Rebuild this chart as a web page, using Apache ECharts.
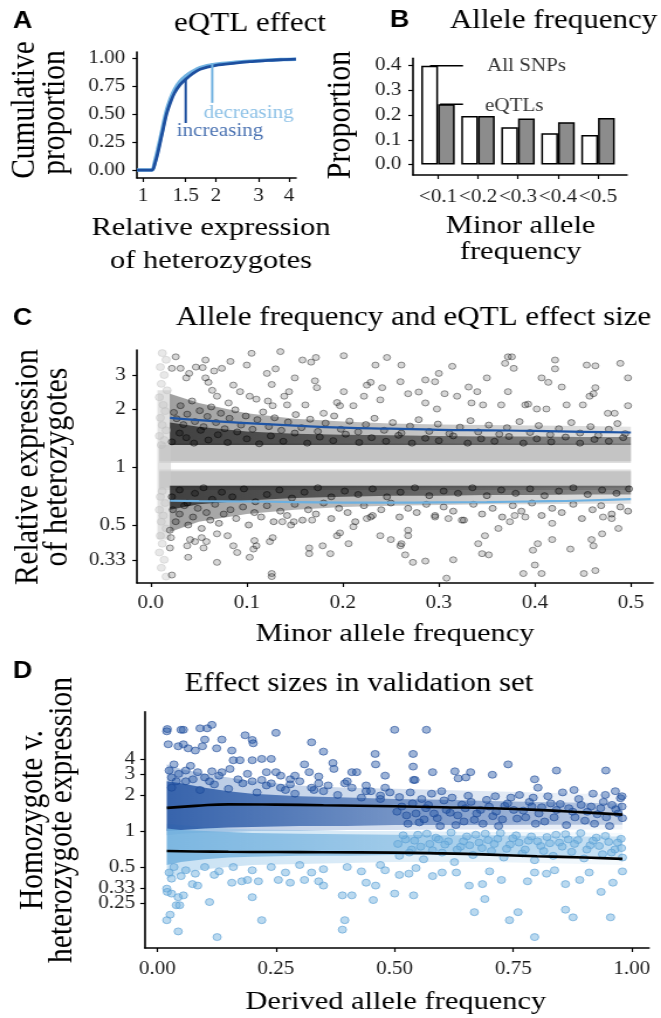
<!DOCTYPE html>
<html><head><meta charset="utf-8">
<script src="https://cdn.jsdelivr.net/npm/echarts@6/dist/echarts.min.js"></script>
<style>
html,body{margin:0;padding:0;background:#fff;overflow:hidden;width:661px;height:1018px;}
#chart{width:565px;height:1018px;transform:scaleX(1.17);transform-origin:0 0;}
</style></head><body><div id="chart"></div>
<script>
const L = Math.log;
const FONT = 'Liberation Serif';

// ---------- Panel A: cumulative distribution of eQTL effect ----------
const cdfX = [0.944, 1.05, 1.09, 1.12, 1.15, 1.2, 1.25, 1.3, 1.35, 1.42, 1.5, 1.6, 1.72, 2.0, 2.4, 2.76, 3.2, 3.7, 4.28];
const cdfIncreasing = [0, 0, 0, 0.06, 0.15, 0.33, 0.5, 0.61, 0.69, 0.76, 0.81, 0.86, 0.9, 0.935, 0.955, 0.968, 0.977, 0.985, 0.99];
const cdfDecreasing = [0, 0, 0, 0.08, 0.18, 0.36, 0.53, 0.64, 0.72, 0.79, 0.84, 0.88, 0.915, 0.945, 0.962, 0.972, 0.98, 0.986, 0.99];
const aTicksX = [1, 1.5, 2, 3, 4];
const aTickLabelsX = ['1', '1.5', '2', '3', '4'];
const aTicksY = [0, 0.25, 0.5, 0.75, 1];
const aPointerInc = [[1.5, 0.81], [1.5, 0.42]];
const aPointerDec = [[1.93, 0.955], [1.93, 0.6]];
const aLabels = [[1.375, 0.345, 'increasing'], [1.775, 0.51, 'decreasing']];

// ---------- Panel B: allele frequency bars ----------
const mafBins = ['<0.1', '<0.2', '<0.3', '<0.4', '<0.5'];
const allSNPs = [0.40, 0.197, 0.151, 0.127, 0.12];
const eQTLs = [0.244, 0.197, 0.187, 0.171, 0.189];
const bTicksY = [0, 0.1, 0.2, 0.3, 0.4];
const bPointerAll = [[0.8, 0.4], [1.625, 0.4]];
const bPointerEqtl = [[1.05, 0.244], [1.625, 0.244]];
const bLabels = [[2.225, 0.396, 'All SNPs'], [2.175, 0.237, 'eQTLs']];

// ---------- Panel C: allele frequency vs effect size ----------
const cTicksX = [0, 0.1, 0.2, 0.3, 0.4, 0.5];
const cTicksY = [0.33, 0.5, 1, 2, 3];
const cTickLabelsY = ['0.33', '0.5', '1', '2', '3'];
const cGrayX = [0.009, 0.5];
const cGrayUpperLo = [1.07, 1.07], cGrayUpperHi = [1.30, 1.30];
const cGrayLowerLo = [0.78, 0.78], cGrayLowerHi = [0.95, 0.95];
const cGrayHaloUpperLo = [1.05, 1.05], cGrayHaloUpperHi = [1.33, 1.33];
const cGrayHaloLowerLo = [0.76, 0.76], cGrayHaloLowerHi = [0.97, 0.97];
const cStripX = [0.007, 0.021];
const cStripLo = [0.42, 0.42], cStripHi = [2.5, 2.5];
const cBlackX = [0.02, 0.05, 0.1, 0.15, 0.2, 0.25, 0.3, 0.35, 0.4, 0.45, 0.5];
const cUpperBase = [1.30, 1.30, 1.30, 1.30, 1.30, 1.30, 1.30, 1.30, 1.30, 1.30, 1.30];
const cUpperCoreHi = [1.7, 1.62, 1.53, 1.49, 1.47, 1.46, 1.45, 1.44, 1.44, 1.43, 1.43];
const cUpperHaloHi = [2.4, 2.15, 1.9, 1.78, 1.72, 1.68, 1.66, 1.65, 1.64, 1.63, 1.62];
const cLowerBase = [0.80, 0.80, 0.80, 0.80, 0.80, 0.80, 0.80, 0.80, 0.80, 0.80, 0.80];
const cLowerCoreLo = [0.6, 0.64, 0.67, 0.69, 0.7, 0.71, 0.71, 0.715, 0.715, 0.72, 0.72];
const cLowerHaloLo = [0.46, 0.52, 0.57, 0.6, 0.62, 0.63, 0.635, 0.64, 0.64, 0.645, 0.645];
const cSmoothX = [0.02, 0.05, 0.1, 0.15, 0.2, 0.25, 0.3, 0.35, 0.4, 0.45, 0.5];
const cSmoothUp = [1.80, 1.75, 1.69, 1.64, 1.60, 1.58, 1.56, 1.55, 1.54, 1.52, 1.51];
const cSmoothDown = [0.668, 0.665, 0.662, 0.658, 0.654, 0.653, 0.655, 0.658, 0.663, 0.670, 0.682];
const cUpperSparse = [[0.026,3.73],[0.022,3.25],[0.031,3.25],[0.057,3.59],[0.105,3.89],[0.135,3.97],[0.158,3.59],[0.167,3.5],[0.172,3.7],[0.201,3.78],[0.246,3.7],[0.234,3.38],[0.1,3.38],[0.13,3.23],[0.083,3.53],[0.074,3.25],[0.066,3.15],[0.047,3.3],[0.054,3.28],[0.04,3.06],[0.037,2.9],[0.057,2.9],[0.06,2.75],[0.086,2.66],[0.093,2.46],[0.121,3.06],[0.126,2.68],[0.15,2.9],[0.171,2.8],[0.144,2.46],[0.173,2.58],[0.201,2.46],[0.225,2.66],[0.229,2.75],[0.241,2.58],[0.222,2.33],[0.239,2.23],[0.064,2.5],[0.069,2.33],[0.081,2.15],[0.103,2.33],[0.11,2.25],[0.122,2.2],[0.127,2.08],[0.139,2.33],[0.142,2.1],[0.161,2.1],[0.194,2.16],[0.197,2.08],[0.211,2.08],[0.18,1.9],[0.261,3.38],[0.286,2.83],[0.296,2.77],[0.3,3.06],[0.314,3.33],[0.331,2.6],[0.34,2.46],[0.35,2.9],[0.369,3.45],[0.372,3.73],[0.376,3.73],[0.378,3.25],[0.372,2.46],[0.407,2.9],[0.414,2.75],[0.421,3.59],[0.421,3.23],[0.428,2.6],[0.454,3.38],[0.463,3.35],[0.463,2.58],[0.461,2.4],[0.457,2.33],[0.489,3.45],[0.497,2.9],[0.497,2.08],[0.476,1.9],[0.483,1.9],[0.26,2.77],[0.268,2.4],[0.279,2.45],[0.306,2.4],[0.319,2.33],[0.334,2.15],[0.346,2.1],[0.365,2.1],[0.39,2.1],[0.393,2.12],[0.402,2.0],[0.412,2.0],[0.433,2.1],[0.45,2.1],[0.286,2.15],[0.298,2.0]];
const cUpperBand = [[0.024,1.92],[0.027,1.78],[0.031,2.08],[0.034,1.66],[0.038,1.88],[0.043,2.2],[0.046,1.72],[0.051,1.96],[0.055,1.62],[0.059,1.83],[0.063,2.05],[0.068,1.7],[0.073,1.9],[0.077,1.58],[0.082,1.79],[0.088,1.98],[0.094,1.65],[0.099,1.84],[0.106,1.57],[0.111,1.76],[0.117,1.93],[0.123,1.62],[0.129,1.8],[0.136,1.55],[0.143,1.71],[0.151,1.87],[0.157,1.6],[0.166,1.77],[0.174,1.53],[0.182,1.69],[0.191,1.84],[0.198,1.57],[0.207,1.73],[0.216,1.52],[0.224,1.66],[0.233,1.79],[0.243,1.55],[0.252,1.7],[0.261,1.5],[0.27,1.63],[0.279,1.76],[0.29,1.53],[0.299,1.67],[0.311,1.49],[0.322,1.61],[0.333,1.74],[0.341,1.52],[0.352,1.65],[0.363,1.48],[0.371,1.6],[0.384,1.72],[0.395,1.51],[0.404,1.64],[0.416,1.47],[0.425,1.58],[0.438,1.7],[0.447,1.5],[0.458,1.62],[0.466,1.46],[0.477,1.57],[0.486,1.68],[0.494,1.49]];
const cUpperCore = [[0.022,1.35],[0.03,1.5],[0.037,1.42],[0.045,1.33],[0.052,1.55],[0.06,1.38],[0.07,1.47],[0.08,1.34],[0.09,1.52],[0.1,1.4],[0.113,1.32],[0.125,1.45],[0.138,1.36],[0.15,1.5],[0.163,1.33],[0.176,1.43],[0.19,1.37],[0.203,1.48],[0.217,1.34],[0.23,1.42],[0.245,1.36],[0.258,1.46],[0.272,1.33],[0.286,1.41],[0.3,1.37],[0.315,1.45],[0.33,1.33],[0.344,1.4],[0.358,1.36],[0.373,1.44],[0.388,1.33],[0.402,1.4],[0.417,1.35],[0.432,1.43],[0.447,1.33],[0.462,1.39],[0.477,1.36],[0.492,1.42]];
const cLowerSparse = [[0.02,0.47],[0.021,0.43],[0.02,0.38],[0.022,0.275],[0.039,0.34],[0.038,0.39],[0.041,0.42],[0.046,0.41],[0.058,0.41],[0.053,0.43],[0.069,0.32],[0.086,0.39],[0.09,0.36],[0.103,0.34],[0.107,0.375],[0.11,0.39],[0.108,0.415],[0.124,0.41],[0.127,0.43],[0.126,0.28],[0.126,0.27],[0.137,0.52],[0.165,0.38],[0.165,0.355],[0.179,0.39],[0.187,0.355],[0.206,0.4],[0.211,0.49],[0.239,0.44],[0.194,0.44],[0.197,0.455],[0.08,0.44],[0.146,0.5],[0.149,0.52],[0.168,0.53],[0.225,0.54],[0.229,0.55],[0.25,0.42],[0.069,0.45],[0.055,0.38],[0.261,0.4],[0.265,0.35],[0.26,0.39],[0.273,0.32],[0.286,0.325],[0.308,0.265],[0.315,0.33],[0.341,0.4],[0.348,0.44],[0.345,0.355],[0.352,0.35],[0.362,0.48],[0.374,0.52],[0.388,0.28],[0.4,0.31],[0.407,0.28],[0.398,0.37],[0.403,0.4],[0.418,0.42],[0.437,0.375],[0.451,0.28],[0.463,0.29],[0.459,0.42],[0.461,0.39],[0.47,0.45],[0.487,0.48],[0.471,0.55],[0.48,0.54],[0.296,0.55],[0.31,0.54],[0.324,0.53],[0.379,0.56],[0.39,0.55],[0.268,0.47],[0.268,0.44],[0.418,0.51]];
const cLowerBand = [[0.023,0.6],[0.026,0.52],[0.03,0.57],[0.035,0.63],[0.039,0.5],[0.044,0.55],[0.049,0.61],[0.053,0.48],[0.058,0.58],[0.062,0.53],[0.067,0.64],[0.071,0.51],[0.076,0.57],[0.083,0.6],[0.089,0.54],[0.096,0.62],[0.102,0.5],[0.108,0.58],[0.115,0.55],[0.121,0.63],[0.128,0.52],[0.135,0.59],[0.142,0.56],[0.15,0.64],[0.158,0.53],[0.164,0.6],[0.172,0.57],[0.18,0.65],[0.188,0.54],[0.196,0.61],[0.205,0.58],[0.213,0.52],[0.222,0.63],[0.231,0.56],[0.24,0.6],[0.25,0.65],[0.259,0.55],[0.268,0.61],[0.277,0.58],[0.287,0.64],[0.296,0.56],[0.305,0.62],[0.315,0.59],[0.326,0.53],[0.336,0.64],[0.345,0.57],[0.356,0.61],[0.366,0.55],[0.377,0.63],[0.386,0.59],[0.397,0.65],[0.407,0.56],[0.418,0.61],[0.428,0.58],[0.44,0.64],[0.449,0.54],[0.46,0.6],[0.469,0.63],[0.48,0.57],[0.489,0.62],[0.497,0.59]];
const cLowerCore = [[0.022,0.7],[0.03,0.76],[0.038,0.65],[0.046,0.73],[0.055,0.78],[0.064,0.68],[0.074,0.74],[0.085,0.7],[0.097,0.77],[0.109,0.66],[0.121,0.72],[0.134,0.76],[0.147,0.69],[0.16,0.74],[0.174,0.78],[0.188,0.7],[0.202,0.75],[0.216,0.72],[0.231,0.77],[0.246,0.7],[0.26,0.74],[0.275,0.78],[0.29,0.71],[0.305,0.75],[0.32,0.73],[0.335,0.78],[0.35,0.71],[0.365,0.76],[0.38,0.73],[0.395,0.77],[0.41,0.71],[0.425,0.75],[0.44,0.78],[0.455,0.72],[0.47,0.76],[0.485,0.73],[0.498,0.77]];
const cGrayStrip = [[0.012,3.9],[0.016,3.6],[0.01,3.3],[0.014,3.0],[0.011,2.7],[0.017,2.5],[0.009,2.3],[0.013,2.1],[0.015,1.95],[0.01,1.8],[0.012,1.65],[0.016,1.55],[0.009,1.45],[0.014,1.38],[0.011,1.3],[0.012,0.75],[0.01,0.7],[0.015,0.65],[0.009,0.6],[0.013,0.56],[0.011,0.52],[0.016,0.48],[0.01,0.44],[0.012,0.4],[0.009,0.36],[0.014,0.33],[0.011,0.3],[0.016,0.27]];

// ---------- Panel D: validation set ----------
const dTicksX = [0, 0.25, 0.5, 0.75, 1];
const dTicksY = [0.33, 0.5, 1, 2, 3];
const dTickLabelsY = ['0.33', '0.5', '1', '2', '3'];
const dTicksYOuter = [0.25, 4];
const dTickLabelsYOuter = ['0.25', '4'];
const dBandX = [0.02, 0.05, 0.1, 0.15, 0.2, 0.3, 0.4, 0.5, 0.6, 0.7, 0.8, 0.9, 0.98];
const dDarkCoreLo = [1.0, 1.02, 1.05, 1.07, 1.08, 1.1, 1.1, 1.12, 1.12, 1.12, 1.13, 1.13, 1.13];
const dDarkCoreHi = [2.6, 2.5, 2.3, 2.15, 2.05, 1.95, 1.9, 1.85, 1.82, 1.78, 1.75, 1.72, 1.7];
const dDarkHaloLo = [0.92, 0.95, 0.97, 0.98, 1.0, 1.0, 1.02, 1.02, 1.03, 1.03, 1.03, 1.03, 1.03];
const dDarkHaloHi = [3.6, 3.3, 3.0, 2.8, 2.6, 2.4, 2.3, 2.25, 2.2, 2.15, 2.1, 2.05, 2.0];
const dLightCoreLo = [0.52, 0.55, 0.58, 0.6, 0.61, 0.62, 0.62, 0.63, 0.63, 0.63, 0.62, 0.61, 0.6];
const dLightCoreHi = [1.05, 1.02, 1.0, 0.98, 0.96, 0.95, 0.94, 0.93, 0.92, 0.92, 0.91, 0.9, 0.9];
const dLightHaloLo = [0.4, 0.44, 0.48, 0.5, 0.52, 0.53, 0.54, 0.55, 0.55, 0.55, 0.54, 0.53, 0.52];
const dLightHaloHi = [1.15, 1.12, 1.08, 1.05, 1.03, 1.02, 1.0, 1.0, 0.99, 0.98, 0.98, 0.97, 0.96];
const dSmoothX = [0.02, 0.08, 0.15, 0.25, 0.35, 0.5, 0.6, 0.7, 0.8, 0.9, 0.98];
const dSmoothUp = [1.56, 1.62, 1.67, 1.66, 1.64, 1.61, 1.58, 1.55, 1.50, 1.43, 1.37];
const dSmoothDown = [0.68, 0.675, 0.67, 0.667, 0.664, 0.66, 0.65, 0.635, 0.615, 0.6, 0.585];
const dDarkSparse = [[0.02,6.8],[0.021,7.1],[0.05,7.0],[0.055,7.0],[0.09,7.2],[0.105,7.2],[0.115,7.7],[0.185,6.3],[0.25,6.6],[0.2,5.76],[0.202,5.4],[0.325,5.5],[0.35,4.6],[0.459,4.4],[0.5,7.0],[0.567,7.0],[0.539,4.4],[0.539,3.45],[0.54,2.67],[0.543,2.67],[0.58,3.1],[0.627,3.15],[0.634,2.75],[0.65,2.8],[0.66,3.1],[0.706,2.95],[0.739,3.6],[0.795,2.7],[0.802,2.3],[0.841,3.2],[0.878,2.2],[0.945,3.2],[0.965,2.15],[0.944,2.0],[0.979,1.95],[0.023,5.3],[0.044,5.1],[0.055,5.3],[0.065,4.9],[0.08,4.7],[0.095,5.1],[0.1,5.8],[0.125,4.9],[0.136,5.8],[0.157,4.7],[0.16,3.9],[0.174,3.9],[0.2,3.9],[0.22,4.0],[0.24,4.0],[0.23,3.1],[0.25,3.1],[0.26,2.9],[0.28,2.7],[0.29,2.9],[0.31,3.6],[0.32,3.1],[0.34,2.85],[0.37,3.7],[0.372,3.3],[0.41,3.1],[0.42,3.1],[0.46,3.6],[0.48,2.9],[0.07,3.5],[0.085,3.1],[0.1,2.8],[0.115,3.15],[0.136,3.1],[0.153,3.3],[0.2,2.6],[0.22,2.67],[0.24,2.5],[0.27,2.2],[0.325,2.3],[0.35,2.15],[0.36,2.4],[0.395,2.5],[0.41,2.3],[0.43,1.9],[0.45,2.15],[0.47,1.85],[0.49,2.1],[0.025,3.2],[0.03,2.8],[0.035,3.6],[0.04,2.6],[0.045,3.0],[0.06,3.2],[0.075,2.7],[0.11,2.6],[0.13,2.9],[0.17,2.7],[0.19,3.0],[0.23,2.4],[0.28,2.45],[0.3,2.6],[0.34,2.5],[0.4,2.6],[0.44,2.4],[0.48,2.3]];
const dDarkBand = [[0.51,1.92],[0.525,1.35],[0.538,1.7],[0.552,1.18],[0.566,1.55],[0.578,2.05],[0.59,1.28],[0.604,1.8],[0.617,1.42],[0.629,1.12],[0.642,1.66],[0.655,1.97],[0.668,1.24],[0.681,1.5],[0.694,1.82],[0.707,1.33],[0.719,1.1],[0.732,1.62],[0.745,1.9],[0.758,1.27],[0.771,1.48],[0.784,1.75],[0.797,1.15],[0.81,1.58],[0.823,1.95],[0.836,1.3],[0.849,1.68],[0.862,1.12],[0.875,1.45],[0.888,1.85],[0.901,1.22],[0.914,1.6],[0.927,1.38],[0.94,1.75],[0.953,1.1],[0.966,1.52],[0.976,1.88],[0.98,1.28],[0.03,2.3],[0.06,2.6],[0.09,2.2],[0.12,2.45],[0.15,2.25],[0.18,2.5],[0.21,2.1],[0.26,2.3],[0.29,2.05],[0.33,2.2],[0.38,2.0],[0.44,2.15],[0.47,1.98],[0.505,1.45],[0.515,1.6],[0.528,1.15],[0.533,2.1],[0.545,1.4],[0.557,1.85],[0.562,1.25],[0.571,1.65],[0.583,1.4],[0.596,1.1],[0.599,2.15],[0.609,1.5],[0.621,1.9],[0.633,1.35],[0.646,1.2],[0.649,1.55],[0.661,1.75],[0.673,1.4],[0.686,1.15],[0.699,1.6],[0.712,1.95],[0.714,1.45],[0.727,1.25],[0.738,1.7],[0.751,1.5],[0.763,2.0],[0.776,1.3],[0.789,1.6],[0.792,1.9],[0.804,1.4],[0.816,1.2],[0.829,1.7],[0.841,1.5],[0.854,2.1],[0.867,1.55],[0.88,1.3],[0.893,1.65],[0.906,1.45],[0.918,2.05],[0.921,1.15],[0.934,1.55],[0.946,1.3],[0.958,1.65],[0.971,1.4],[0.979,1.6]];
const dLightSparse = [[0.02,0.33],[0.021,0.31],[0.03,0.3],[0.044,0.28],[0.055,0.29],[0.04,0.24],[0.047,0.24],[0.02,0.18],[0.027,0.2],[0.044,0.145],[0.126,0.13],[0.074,0.36],[0.085,0.35],[0.11,0.255],[0.12,0.43],[0.157,0.37],[0.178,0.38],[0.19,0.39],[0.213,0.38],[0.2,0.28],[0.22,0.18],[0.255,0.39],[0.28,0.37],[0.31,0.39],[0.325,0.45],[0.34,0.38],[0.35,0.35],[0.39,0.29],[0.395,0.18],[0.39,0.15],[0.41,0.29],[0.44,0.37],[0.455,0.265],[0.46,0.35],[0.48,0.47],[0.5,0.3],[0.51,0.43],[0.53,0.44],[0.54,0.29],[0.545,0.49],[0.58,0.42],[0.6,0.45],[0.63,0.45],[0.657,0.35],[0.668,0.21],[0.685,0.36],[0.69,0.27],[0.7,0.46],[0.725,0.39],[0.742,0.18],[0.76,0.21],[0.78,0.38],[0.795,0.13],[0.795,0.45],[0.82,0.44],[0.837,0.47],[0.86,0.36],[0.86,0.22],[0.876,0.19],[0.89,0.39],[0.91,0.45],[0.935,0.31],[0.955,0.19],[0.96,0.37],[0.98,0.46],[0.025,0.45],[0.03,0.4],[0.035,0.5],[0.05,0.42],[0.06,0.47],[0.08,0.44],[0.1,0.5],[0.13,0.46],[0.16,0.5],[0.2,0.47],[0.24,0.5],[0.27,0.45],[0.3,0.52],[0.35,0.48],[0.4,0.5],[0.43,0.46],[0.47,0.52]];
const dLightBand = [[0.51,0.62],[0.523,0.85],[0.536,0.7],[0.549,0.93],[0.561,0.58],[0.574,0.78],[0.587,0.88],[0.6,0.66],[0.613,0.82],[0.626,0.55],[0.639,0.74],[0.652,0.9],[0.665,0.63],[0.678,0.8],[0.691,0.95],[0.704,0.68],[0.717,0.86],[0.73,0.6],[0.743,0.77],[0.756,0.92],[0.769,0.65],[0.782,0.83],[0.795,0.57],[0.808,0.75],[0.821,0.89],[0.834,0.62],[0.847,0.8],[0.86,0.94],[0.873,0.67],[0.886,0.84],[0.899,0.59],[0.912,0.76],[0.925,0.88],[0.938,0.64],[0.951,0.81],[0.964,0.7],[0.977,0.86],[0.98,0.6],[0.507,0.78],[0.518,0.92],[0.531,0.66],[0.542,0.83],[0.555,0.74],[0.568,0.95],[0.58,0.69],[0.593,0.85],[0.606,0.77],[0.619,0.97],[0.632,0.7],[0.645,0.82],[0.658,0.76],[0.671,0.93],[0.684,0.72],[0.697,0.84],[0.71,0.78],[0.723,0.96],[0.736,0.71],[0.749,0.87],[0.762,0.8],[0.775,0.7],[0.788,0.9],[0.801,0.82],[0.814,0.68],[0.827,0.79],[0.84,0.93],[0.853,0.74],[0.866,0.85],[0.879,0.78],[0.892,0.96],[0.905,0.7],[0.918,0.83],[0.931,0.75],[0.944,0.91],[0.957,0.66],[0.97,0.8],[0.978,0.72]];

// ---------- colours ----------
const DARK = '#1d4f9f', LIGHT = '#72b3e1';

function grad(c0, c1) {
  return new echarts.graphic.LinearGradient(0, 0, 1, 0, [{offset: 0, color: c0}, {offset: 1, color: c1}]);
}
function band(gi, xs, lo, hi, fill) {
  return {
    type: 'custom', xAxisIndex: gi, yAxisIndex: gi, silent: true,
    data: xs.map((x, i) => [x, L(lo[i]), L(hi[i])]),
    renderItem: function (params, api) {
      if (params.dataIndex !== 0) return null;
      const top = xs.map((x, i) => api.coord([x, L(hi[i])]));
      const bot = xs.map((x, i) => api.coord([x, L(lo[i])])).reverse();
      return {type: 'polygon', shape: {points: top.concat(bot)}, style: {fill: fill}};
    }
  };
}
function dots(gi, pts, size, color, border) {
  return {type: 'scatter', xAxisIndex: gi, yAxisIndex: gi, silent: true, symbolSize: size,
    data: pts.map(p => [p[0], L(p[1])]),
    itemStyle: {color: color, borderColor: border, borderWidth: 1}};
}
function logLine(gi, xs, ys, color, width) {
  return {type: 'line', xAxisIndex: gi, yAxisIndex: gi, silent: true, symbol: 'none', smooth: true,
    data: xs.map((x, i) => [x, L(ys[i])]), lineStyle: {color: color, width: width}};
}
function seg(gi, pts, color, width) {
  return {type: 'line', xAxisIndex: gi, yAxisIndex: gi, silent: true, symbol: 'none',
    data: pts, lineStyle: {color: color, width: width}};
}
function labels(gi, pts, color) {
  return {type: 'scatter', xAxisIndex: gi, yAxisIndex: gi, silent: true, symbolSize: 0.1,
    itemStyle: {color: 'transparent'}, data: pts,
    label: {show: true, position: 'right', distance: 0, formatter: p => p.data[2],
      fontFamily: FONT, fontSize: 18, color: color}};
}
function logFmt(ticks, names) {
  return v => { const i = ticks.findIndex(t => Math.abs(L(t) - v) < 1e-6); return i >= 0 ? names[i] : ''; };
}
function axis(gi, min, max, ticks, fmt, margin) {
  return {
    type: 'value', gridIndex: gi, min: min, max: max,
    axisLine: {show: true, onZero: false, lineStyle: {color: '#000', width: 1.6}},
    axisTick: {show: true, length: 4, customValues: ticks, lineStyle: {color: '#000', width: 1.2}},
    axisLabel: {customValues: ticks, formatter: fmt, margin: margin, hideOverlap: false,
      color: '#1a1a1a', fontFamily: FONT, fontSize: 18},
    splitLine: {show: false}
  };
}

const chart = echarts.init(document.getElementById('chart'), null, {renderer: 'canvas'});

const texts = [
  ['A', 11.1, 21.5, 0, 23, true], ['eQTL effect', 213.7, 24, 0, 26.5],
  ['Cumulative', 21.6, 110, 1, 29.5], ['proportion', 47.3, 112.5, 1, 29.5],
  ['Relative expression', 180.3, 228.5, 0, 26], ['of heterozygotes', 180.3, 261.4, 0, 26],
  ['B', 333.3, 20.5, 0, 23, true], ['Allele frequency', 473.1, 21, 0, 26.5],
  ['Proportion', 291.5, 115, 1, 30],
  ['Minor allele', 445, 226, 0, 26], ['frequency', 445, 252.4, 0, 26],
  ['C', 11.1, 318.5, 0, 23, true], ['Allele frequency and eQTL effect size', 353.4, 318, 0, 26.5],
  ['Relative expression', 24, 467, 1, 30], ['of heterozygotes', 48.7, 467, 1, 30],
  ['Minor allele frequency', 337.6, 634, 0, 26],
  ['D', 11.1, 672, 0, 23, true], ['Effect sizes in validation set', 306.8, 684, 0, 26.5],
  ['Homozygote v.', 27.8, 820, 1, 29.5], ['heterozygote expression', 53, 820, 1, 29.5],
  ['Derived allele frequency', 338.3, 1001.7, 0, 26]
];
const graphic = texts.map(t => ({
  type: 'text', x: t[1], y: t[2], rotation: t[3] ? Math.PI / 2 : 0, silent: true,
  style: {text: t[0], fill: '#000', align: t[5] ? 'left' : 'center', verticalAlign: 'middle',
    textAlign: t[5] ? 'left' : 'center', textVerticalAlign: 'middle',
    fontFamily: t[5] ? 'Liberation Sans' : FONT, fontWeight: t[5] ? 'bold' : 'normal', fontSize: t[4]}
}));

// second left axis on panel D, carrying the two outer ticks that overlap their neighbours
const dOuterAxis = axis(3, -2.25, 2.294, dTicksYOuter.map(L), logFmt(dTicksYOuter, dTickLabelsYOuter), 8.5);
dOuterAxis.position = 'left';
dOuterAxis.axisLine = {show: false, onZero: false};

const option = {
  animation: false,
  backgroundColor: '#fff',
  graphic: graphic,
  grid: [
    {left: 117.1, top: 52, width: 135.9, height: 126},
    {left: 353.0, top: 58.3, width: 182.9, height: 116.7},
    {left: 117.1, top: 350, width: 441, height: 233},
    {left: 123.9, top: 711.7, width: 430.8, height: 236.3}
  ],
  xAxis: [
    axis(0, L(0.944), L(4.28), aTicksX.map(L), logFmt(aTicksX, aTickLabelsX), 9),
    axis(1, 0.375, 5.725, [1, 2, 3, 4, 5], v => mafBins[Math.round(v) - 1], 13),
    axis(2, -0.0143, 0.523, cTicksX, v => v.toFixed(1), 11),
    axis(3, -0.026, 1.036, dTicksX, v => v.toFixed(2), 12)
  ],
  yAxis: [
    axis(0, -0.071, 1.054, aTicksY, v => v.toFixed(2), 10),
    axis(1, -0.042, 0.43, bTicksY, v => v.toFixed(1), 10),
    axis(2, -1.386, 1.398, cTicksY.map(L), logFmt(cTicksY, cTickLabelsY), 9.5),
    Object.assign(axis(3, -2.25, 2.294, dTicksY.map(L), logFmt(dTicksY, dTickLabelsY), 8.5), {position: 'left'}),
    dOuterAxis
  ],
  series: [
    // A
    {type: 'line', xAxisIndex: 0, yAxisIndex: 0, silent: true, symbol: 'none', smooth: 0.3,
      data: cdfX.map((x, i) => [L(x), cdfDecreasing[i]]), lineStyle: {color: LIGHT, width: 3.5}},
    {type: 'line', xAxisIndex: 0, yAxisIndex: 0, silent: true, symbol: 'none', smooth: 0.3,
      data: cdfX.map((x, i) => [L(x), cdfIncreasing[i]]), lineStyle: {color: DARK, width: 2.8}},
    seg(0, aPointerInc.map(p => [L(p[0]), p[1]]), DARK, 2),
    seg(0, aPointerDec.map(p => [L(p[0]), p[1]]), LIGHT, 2),
    labels(0, [[L(aLabels[0][0]), aLabels[0][1], aLabels[0][2]]], DARK),
    labels(0, [[L(aLabels[1][0]), aLabels[1][1], aLabels[1][2]]], LIGHT),
    // B
    {type: 'bar', xAxisIndex: 1, yAxisIndex: 1, silent: true, barWidth: 14.3, barGap: '0%',
      data: allSNPs.map((v, i) => [i + 1, v]), itemStyle: {color: '#fff', borderColor: '#000', borderWidth: 1.5}},
    {type: 'bar', xAxisIndex: 1, yAxisIndex: 1, silent: true, barWidth: 14.3, barGap: '0%',
      data: eQTLs.map((v, i) => [i + 1, v]), itemStyle: {color: '#8c8c8c', borderColor: '#000', borderWidth: 1.5}},
    seg(1, bPointerAll, '#000', 1.4),
    seg(1, bPointerEqtl, '#000', 1.4),
    labels(1, bLabels, '#000'),
    // C
    band(2, cGrayX, cGrayHaloUpperLo, cGrayHaloUpperHi, '#dedede'),
    band(2, cGrayX, cGrayHaloLowerLo, cGrayHaloLowerHi, '#dedede'),
    band(2, cGrayX, cGrayUpperLo, cGrayUpperHi, '#c4c4c4'),
    band(2, cGrayX, cGrayLowerLo, cGrayLowerHi, '#c4c4c4'),
    band(2, cStripX, cStripLo, cStripHi, 'rgba(205,205,205,0.6)'),
    band(2, cBlackX, cUpperBase, cUpperHaloHi, grad('rgba(30,30,30,0.42)', 'rgba(30,30,30,0.12)')),
    band(2, cBlackX, cLowerHaloLo, cLowerBase, grad('rgba(30,30,30,0.42)', 'rgba(30,30,30,0.12)')),
    band(2, cBlackX, cUpperBase, cUpperCoreHi, grad('rgba(20,20,20,0.68)', 'rgba(20,20,20,0.42)')),
    band(2, cBlackX, cLowerCoreLo, cLowerBase, grad('rgba(20,20,20,0.68)', 'rgba(20,20,20,0.42)')),
    dots(2, cGrayStrip, 7, 'rgba(190,190,190,0.45)', 'rgba(190,190,190,0.5)'),
    dots(2, cUpperCore, 6, 'rgba(0,0,0,0.3)', 'rgba(0,0,0,0.6)'),
    dots(2, cLowerCore, 6, 'rgba(0,0,0,0.3)', 'rgba(0,0,0,0.6)'),
    dots(2, cUpperBand, 6, 'rgba(0,0,0,0.25)', 'rgba(0,0,0,0.55)'),
    dots(2, cLowerBand, 6, 'rgba(0,0,0,0.25)', 'rgba(0,0,0,0.55)'),
    dots(2, cUpperSparse, 6, 'rgba(0,0,0,0.2)', 'rgba(0,0,0,0.5)'),
    dots(2, cLowerSparse, 6, 'rgba(0,0,0,0.2)', 'rgba(0,0,0,0.5)'),
    logLine(2, cSmoothX, cSmoothUp, '#1f55a5', 2.2),
    logLine(2, cSmoothX, cSmoothDown, '#6db0e0', 2.2),
    // D
    band(3, dBandX, dDarkHaloLo, dDarkHaloHi, grad('rgba(40,95,175,0.34)', 'rgba(40,95,175,0.06)')),
    band(3, dBandX, dLightHaloLo, dLightHaloHi, grad('rgba(125,185,228,0.42)', 'rgba(125,185,228,0.08)')),
    band(3, dBandX, dDarkCoreLo, dDarkCoreHi, grad('rgba(28,78,160,0.82)', 'rgba(28,78,160,0.22)')),
    band(3, dBandX, dLightCoreLo, dLightCoreHi, grad('rgba(112,176,222,0.85)', 'rgba(112,176,222,0.3)')),
    dots(3, dDarkBand, 7, 'rgba(35,85,165,0.55)', 'rgba(25,70,150,0.75)'),
    dots(3, dDarkSparse, 7, 'rgba(35,85,165,0.55)', 'rgba(25,70,150,0.75)'),
    dots(3, dLightBand, 7, 'rgba(110,175,222,0.6)', 'rgba(90,160,212,0.8)'),
    dots(3, dLightSparse, 7, 'rgba(110,175,222,0.6)', 'rgba(90,160,212,0.8)'),
    logLine(3, dSmoothX, dSmoothUp, '#000', 2.6),
    logLine(3, dSmoothX, dSmoothDown, '#000', 2.6)
  ]
};
chart.setOption(option);
</script></body></html>
